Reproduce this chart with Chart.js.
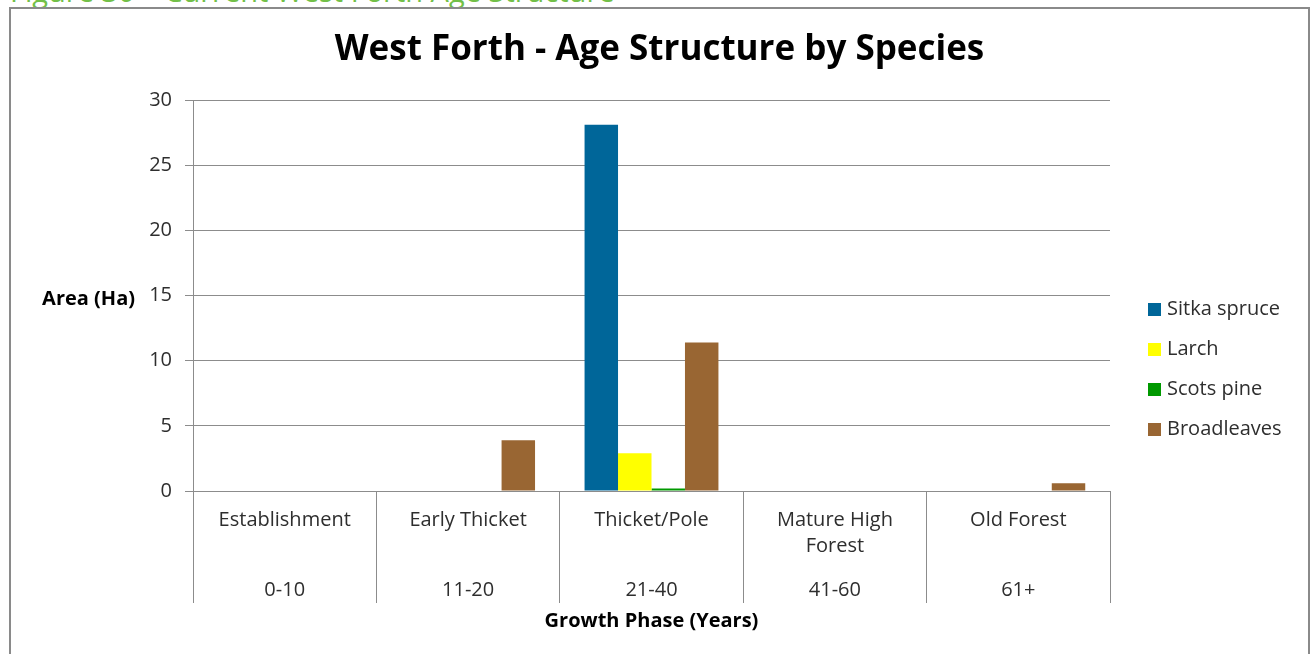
<!DOCTYPE html>
<html>
<head>
<meta charset="utf-8">
<script src="https://cdn.jsdelivr.net/npm/chart.js@4/dist/chart.umd.min.js"></script>
<style>
html,body{margin:0;padding:0;background:#fff;overflow:hidden;width:1315px;height:654px;}
#cap{position:absolute;left:10px;top:-24px;font:29px "Open Sans",sans-serif;color:#72c048;white-space:nowrap;line-height:29px;}
#box{position:absolute;left:9px;top:7px;width:1301px;height:700px;border:2px solid #8a8a8a;box-sizing:border-box;background:#fff;}
#wrap{position:absolute;left:0;top:0;width:1297px;height:645px;}
</style>
</head>
<body>
<div id="cap">Figure 30 – Current West Forth Age Structure</div>
<div id="box"><div id="wrap"><canvas id="c"></canvas></div></div>
<script>
// ---- data ----
const categories = [["Establishment"], ["Early Thicket"], ["Thicket/Pole"], ["Mature High", "Forest"], ["Old Forest"]];
const ageRanges = ["0-10", "11-20", "21-40", "41-60", "61+"];
const seriesNames = ["Sitka spruce", "Larch", "Scots pine", "Broadleaves"];
const sitkaSpruce = [0, 0, 28.1, 0, 0];
const larch = [0, 0, 2.9, 0, 0];
const scotsPine = [0, 0, 0.2, 0, 0];
const broadleaves = [0, 3.9, 11.4, 0, 0.6];
const yMin = 0, yMax = 30, yStep = 5;
const chartTitle = "West Forth - Age Structure by Species";
const yTitle = "Area (Ha)";
const xTitle = "Growth Phase (Years)";

const colors = ["#006699", "#ffff00", "#009900", "#996633"];
const FONT = "'Open Sans', sans-serif";
const TXT = "#2e2e2e";
const GRID = "#8c8c8c";

const extras = {
  id: 'extras',
  afterDraw(chart) {
    const ctx = chart.ctx;
    const area = chart.chartArea;
    const xs = chart.scales.x;
    ctx.save();
    // age range row
    ctx.font = "20px " + FONT;
    ctx.fillStyle = TXT;
    ctx.textAlign = "center";
    ctx.textBaseline = "middle";
    ageRanges.forEach((r, i) => {
      ctx.fillText(r, xs.getPixelForValue(i), area.bottom + 99);
    });
    // horizontal y-axis title
    ctx.font = "bold 20px " + FONT;
    ctx.fillStyle = "#000";
    ctx.textAlign = "right";
    ctx.fillText(yTitle, 124, (area.top + area.bottom) / 2 + 4);
    // legend
    ctx.font = "20px " + FONT;
    ctx.textAlign = "left";
    chart.data.datasets.forEach((ds, i) => {
      const y = area.top + 209 + i * 40;
      const x = area.right + 38;
      ctx.fillStyle = ds.backgroundColor;
      ctx.fillRect(x, y - 6, 13, 13);
      ctx.fillStyle = TXT;
      ctx.fillText(ds.label, x + 19, y);
    });
    ctx.restore();
  }
};

new Chart(document.getElementById('c'), {
  type: 'bar',
  data: {
    labels: categories,
    datasets: [
      { label: seriesNames[0], data: sitkaSpruce, backgroundColor: colors[0] },
      { label: seriesNames[1], data: larch, backgroundColor: colors[1] },
      { label: seriesNames[2], data: scotsPine, backgroundColor: colors[2] },
      { label: seriesNames[3], data: broadleaves, backgroundColor: colors[3] }
    ]
  },
  options: {
    responsive: true,
    maintainAspectRatio: false,
    animation: false,
    layout: { padding: 0 },
    datasets: { bar: { categoryPercentage: 0.73, barPercentage: 1.0 } },
    plugins: {
      legend: { display: false },
      tooltip: { enabled: false },
      title: {
        display: true,
        text: chartTitle,
        color: '#000',
        font: { family: FONT, size: 35, weight: 'bold' },
        padding: { top: 20, bottom: 29 }
      }
    },
    scales: {
      x: {
        grid: { display: true, offset: true, drawOnChartArea: false, drawTicks: true, tickLength: 112, color: GRID },
        border: { display: true, color: GRID },
        ticks: { color: TXT, font: { family: FONT, size: 20, lineHeight: '26px' }, padding: -96, maxRotation: 0, autoSkip: false },
        title: { display: true, text: xTitle, color: '#000', font: { family: FONT, size: 20, weight: 'bold' }, padding: { top: 0, bottom: 21 } },
        afterFit(s) { s.height = 163; }
      },
      y: {
        min: yMin, max: yMax,
        ticks: { stepSize: yStep, color: TXT, font: { family: FONT, size: 20 }, padding: 13 },
        grid: { color: GRID, tickLength: 8 },
        border: { display: true, color: GRID },
        afterFit(s) { s.width = 182; }
      },
      r: {
        type: 'linear',
        position: 'right',
        display: true,
        grid: { display: false },
        ticks: { display: false },
        border: { display: false },
        afterFit(s) { s.width = 198; }
      }
    }
  },
  plugins: [extras]
});
</script>
</body>
</html>
